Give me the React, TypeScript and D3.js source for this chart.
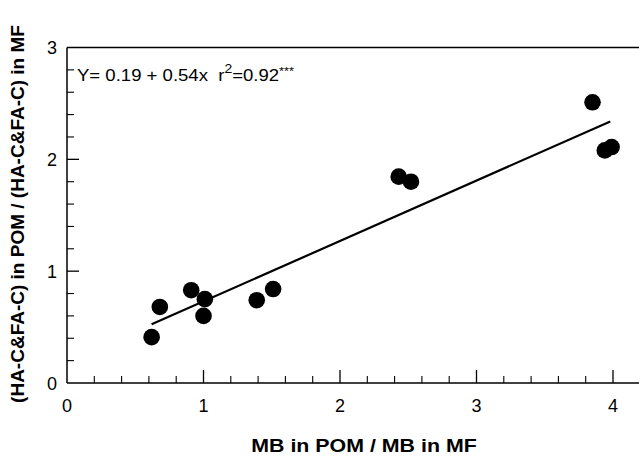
import React from "react";
import * as d3 from "d3";

const xValues = [0.62, 0.68, 0.91, 1.01, 1.0, 1.39, 1.51, 2.43, 2.52, 3.85, 3.94, 3.99];
const yValues = [0.41, 0.68, 0.83, 0.75, 0.6, 0.74, 0.84, 1.845, 1.8, 2.51, 2.08, 2.11];
const fitIntercept = 0.19;
const fitSlope = 0.54;
const fitRange = [0.62, 3.98];
const xMajorTicks = [0, 1, 2, 3, 4];
const yMajorTicks = [0, 1, 2, 3];
const xTitle = "MB in POM / MB in MF";
const yTitle = "(HA-C&FA-C) in POM / (HA-C&FA-C) in MF";

const W = 639;
const H = 456;

export default function App() {
  const x = d3.scaleLinear().domain([0, 4]).range([67, 613]);
  const y = d3.scaleLinear().domain([0, 3]).range([383, 47.5]);
  const xEnd = W;
  const xMinor = d3.range(0.2, 4.2 + 1e-9, 0.2).filter((v) => x(v) < xEnd - 1 && Math.abs(v - Math.round(v)) > 1e-6);
  const yMinor = d3.range(0.2, 3, 0.2).filter((v) => Math.abs(v - Math.round(v)) > 1e-6);
  const line = d3
    .line<number>()
    .x((d) => x(d))
    .y((d) => y(fitIntercept + fitSlope * d));
  const font = "Arial, 'Liberation Sans', Helvetica, sans-serif";
  return (
    <svg width={W} height={H} style={{ position: "absolute", left: 0, top: 0, background: "#fff" }} fontFamily={font}>
      {/* axes frame */}
      <line x1={x(0)} x2={xEnd} y1={y(0)} y2={y(0)} stroke="#000" strokeWidth={1.5} />
      <line x1={x(0)} x2={xEnd} y1={y(3)} y2={y(3)} stroke="#000" strokeWidth={1.5} />
      <line x1={x(0)} x2={x(0)} y1={y(0)} y2={y(3)} stroke="#000" strokeWidth={1.5} />
      {/* x ticks */}
      {xMajorTicks.map((v) => (
        <g key={"xt" + v}>
          {v > 0 && <line x1={x(v)} x2={x(v)} y1={y(0)} y2={y(0) - 13} stroke="#000" strokeWidth={1.3} />}
          <text x={x(v)} y={412} fontSize={18} textAnchor="middle" fill="#000">
            {v}
          </text>
        </g>
      ))}
      {xMinor.map((v) => (
        <line key={"xm" + v} x1={x(v)} x2={x(v)} y1={y(0)} y2={y(0) - 7} stroke="#000" strokeWidth={1.1} />
      ))}
      {/* y ticks */}
      {yMajorTicks.map((v) => (
        <g key={"yt" + v}>
          {v > 0 && v < 3 && <line x1={x(0)} x2={x(0) + 12} y1={y(v)} y2={y(v)} stroke="#000" strokeWidth={1.3} />}
          <text x={57} y={y(v) + 6.5} fontSize={18} textAnchor="end" fill="#000">
            {v}
          </text>
        </g>
      ))}
      {yMinor.map((v) => (
        <line key={"ym" + v} x1={x(0)} x2={x(0) + 7} y1={y(v)} y2={y(v)} stroke="#000" strokeWidth={1.1} />
      ))}
      {/* regression line */}
      <path d={line(fitRange) || ""} fill="none" stroke="#000" strokeWidth={2.2} />
      {/* points */}
      {xValues.map((xv, i) => (
        <circle key={"p" + i} cx={x(xv)} cy={y(yValues[i])} r={8.3} fill="#000" />
      ))}
      {/* equation */}
      <g transform="translate(77,80.7) scale(1.16,1)">
        <text x={0} y={0} fontSize={16} fill="#000">
          {"Y= 0.19 + 0.54x\u00a0\u00a0r"}
          <tspan dy={-8} fontSize={12}>2</tspan>
          <tspan dy={8}>=0.92</tspan>
          <tspan dy={-6} fontSize={11}>***</tspan>
        </text>
      </g>
      {/* titles */}
      <g transform="translate(364,452) scale(1.125,1)">
        <text x={0} y={0} fontSize={19} fontWeight="bold" textAnchor="middle" fill="#000">
          {xTitle}
        </text>
      </g>
      <text
        transform="translate(24,214) rotate(-90)"
        fontSize={19}
        fontWeight="bold"
        textAnchor="middle"
        fill="#000"
      >
        {yTitle}
      </text>
    </svg>
  );
}
